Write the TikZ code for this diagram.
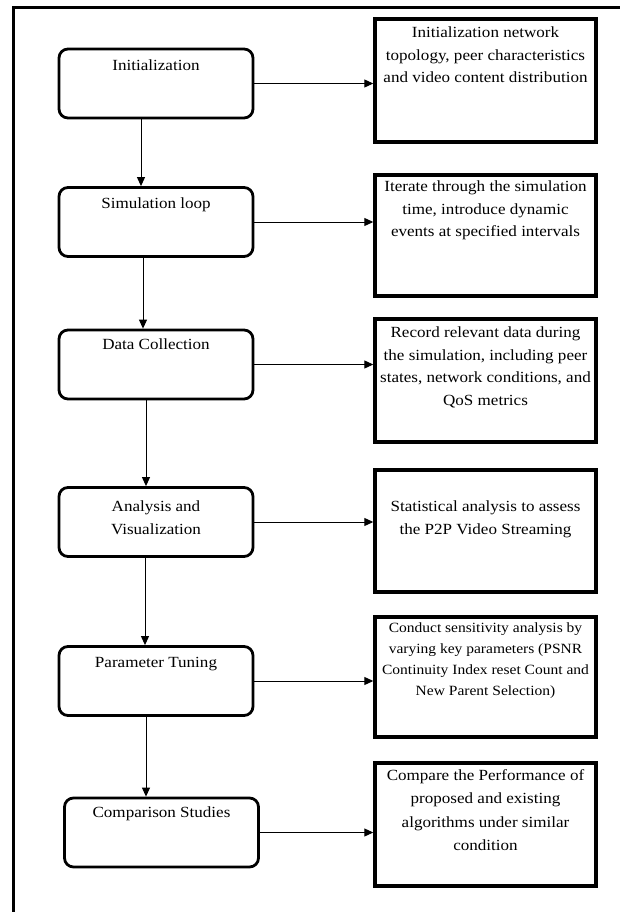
\documentclass[tikz,border=0pt]{standalone}
\usepackage{fontspec}
\setmainfont{Liberation Serif}[FakeStretch=1.1]
\usetikzlibrary{arrows.meta}
\tikzset{
  lbox/.style={draw, line width=2.8pt, rounded corners=9pt, minimum width=194pt, minimum height=69pt, inner sep=0pt},
  rbox/.style={draw, line width=3.4pt, minimum width=221pt, inner sep=0pt},
  txt/.style={anchor=north, inner sep=0pt, align=center, font={\fontsize{15.5}{22.5}\selectfont}},
  arr/.style={line width=1pt, -{Triangle[length=9pt,width=8pt]}},
}
\begin{document}
\begin{tikzpicture}[x=1pt,y=-1pt]
\useasboundingbox (0,0) rectangle (620,912);
\draw[line width=3pt] (13,912) -- (13,8) -- (620,8);
% left boxes
\node[lbox] (b1) at (156,83.5) {};
\node[lbox] (b2) at (156,222) {};
\node[lbox] (b3) at (156,364.5) {};
\node[lbox] (b4) at (156,522) {};
\node[lbox] (b5) at (156,681) {};
\node[lbox] (b6) at (161.5,832.5) {};
\node[txt] (t1) at (156,60) {Initialization};
\node[txt] (t2) at (156,198) {Simulation loop};
\node[txt] (t3) at (156,339) {Data Collection};
\node[txt] (t4) at (156,501) {Analysis and\\Visualization};
\node[txt] (t5) at (156,657) {Parameter Tuning};
\node[txt] (t6) at (161.5,807) {Comparison Studies};
% right boxes
\node[rbox, minimum height=123pt] (r1) at (485.5,80.5) {};
\node[rbox, minimum height=121pt] (r2) at (485.5,235.5) {};
\node[rbox, minimum height=123pt] (r3) at (485.5,380.5) {};
\node[rbox, minimum height=122pt] (r4) at (485.5,531) {};
\node[rbox, minimum height=120pt] (r5) at (485.5,677) {};
\node[rbox, minimum height=123pt] (r6) at (485.5,824.5) {};
\node[txt] (s1) at (485.5,27) {Initialization network\\topology, peer characteristics\\and video content distribution};
\node[txt] (s2) at (485.5,181) {Iterate through the simulation\\time, introduce dynamic\\events at specified intervals};
\node[txt] (s3) at (485.5,327) {Record relevant data during\\the simulation, including peer\\states, network conditions, and\\QoS metrics};
\node[txt] (s4) at (485.5,501) {Statistical analysis to assess\\the P2P Video Streaming};
\node[txt, font={\fontsize{14.1}{21}\selectfont}] (s5) at (485.5,622.5) {Conduct sensitivity analysis by\\varying key parameters (PSNR\\Continuity Index reset Count and\\New Parent Selection)};
\node[txt, font={\fontsize{15.5}{23.5}\selectfont}] (s6) at (485.5,769) {Compare the Performance of\\proposed and existing\\algorithms under similar\\condition};
% vertical arrows
\draw[arr] ([xshift=-15pt]b1.south) -- ([xshift=-15pt]b1.south |- b2.north);
\draw[arr] ([xshift=-13pt]b2.south) -- ([xshift=-13pt]b2.south |- b3.north);
\draw[arr] ([xshift=-10pt]b3.south) -- ([xshift=-10pt]b3.south |- b4.north);
\draw[arr] ([xshift=-11pt]b4.south) -- ([xshift=-11pt]b4.south |- b5.north);
\draw[arr] ([xshift=-10pt]b5.south) -- ([xshift=-10pt]b5.south |- b6.north);
% horizontal arrows
\draw[arr] (b1.east) -- (b1.east -| r1.west);
\draw[arr] (b2.east) -- (b2.east -| r2.west);
\draw[arr] (b3.east) -- (b3.east -| r3.west);
\draw[arr] (b4.east) -- (b4.east -| r4.west);
\draw[arr] (b5.east) -- (b5.east -| r5.west);
\draw[arr] (b6.east) -- (b6.east -| r6.west);
\end{tikzpicture}
\end{document}
